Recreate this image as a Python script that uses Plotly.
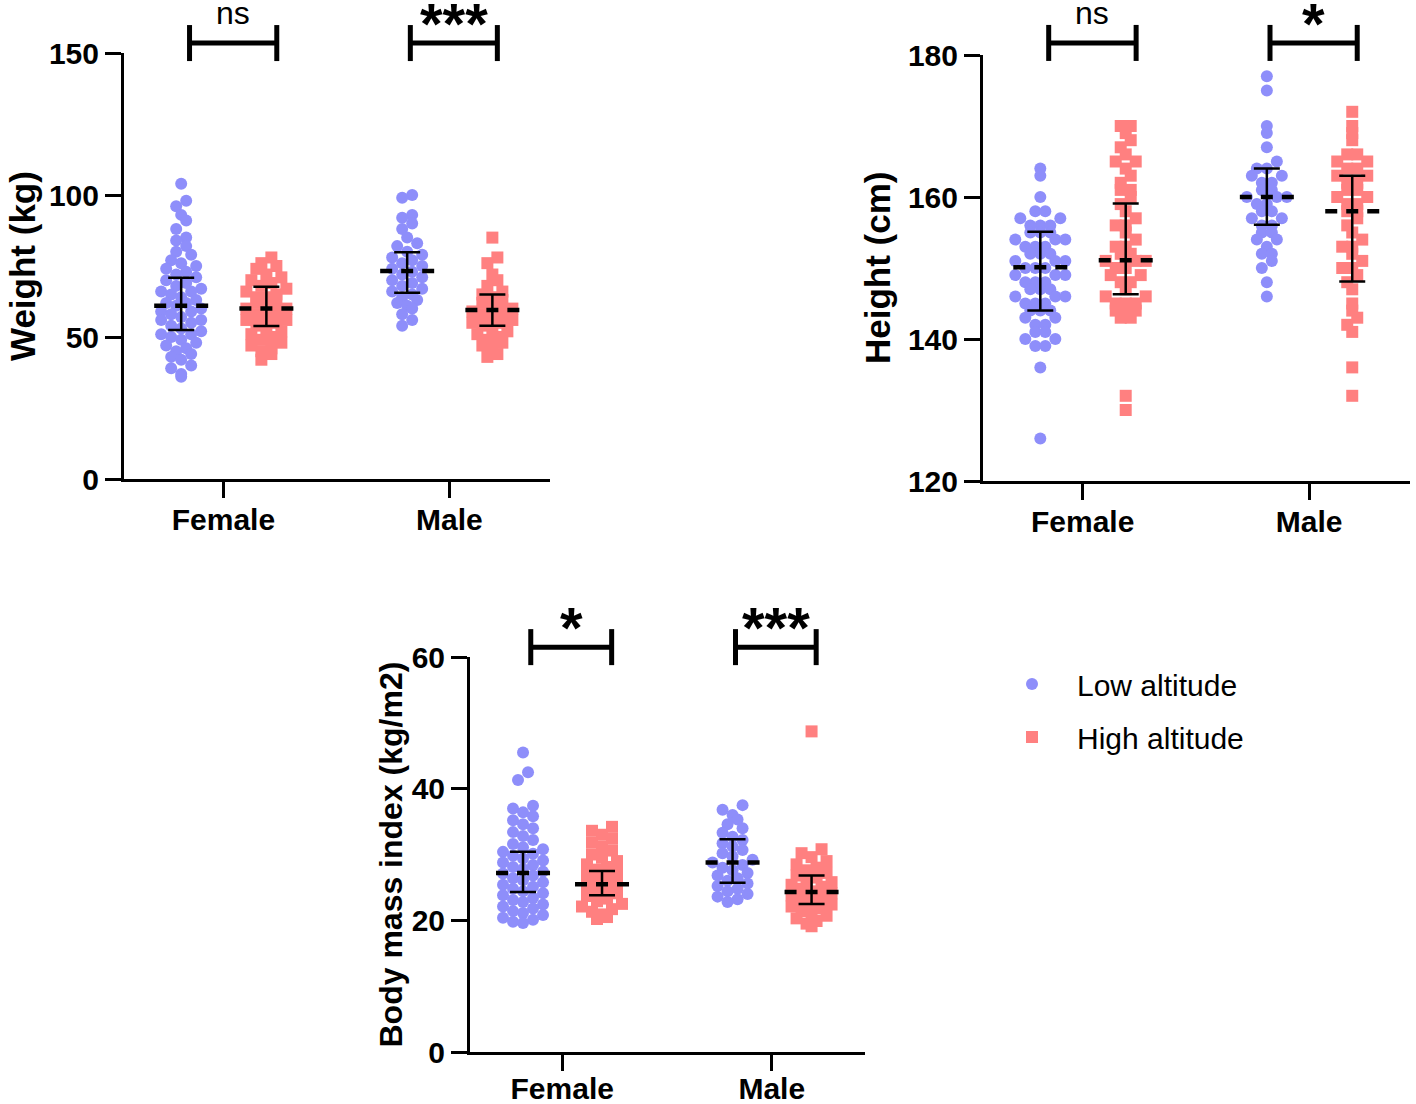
import plotly.graph_objects as go

W, H = 1416, 1104

categories = ["Female", "Male"]
series_names = ["Low altitude", "High altitude"]

# ---------------- data ----------------
weight_female_low = [104, 98, 96, 93, 91, 88, 85, 84, 82, 80, 79, 77, 76, 75, 74, 73, 72, 71, 70, 69,
                     68, 67, 66, 66, 65, 64, 63, 62, 62, 61, 60, 59, 59, 58, 57, 56, 56, 55, 54, 53,
                     52, 51, 51, 50, 49, 48, 47, 46, 45, 44, 43, 42, 40, 39, 37, 36]
weight_female_high = [78, 76, 75, 74, 72, 71, 70, 69, 68, 67, 66, 65, 64, 64, 63, 62, 61, 60, 60, 59,
                      58, 57, 56, 56, 55, 54, 53, 52, 51, 50, 49, 48, 47, 46, 45, 44, 42]
weight_male_low = [100, 99, 93, 92, 90, 88, 85, 83, 82, 80, 79, 78, 77, 76, 75, 74, 73, 72, 71, 70,
                   69, 68, 67, 66, 65, 64, 63, 62, 61, 60, 58, 56, 54]
weight_male_high = [85, 78, 76, 72, 70, 68, 66, 65, 64, 63, 62, 61, 60, 59, 59, 58, 57, 56, 55, 55,
                    54, 53, 52, 51, 50, 49, 48, 47, 46, 44, 43]

height_female_low = [164, 163, 160, 158, 158, 157, 157, 156, 156, 156, 155, 155, 155, 154, 154, 154,
                     153, 153, 153, 152, 152, 152, 151, 151, 151, 150, 150, 150, 149, 149, 149, 148,
                     148, 148, 147, 147, 147, 146, 146, 146, 145, 145, 145, 144, 144, 144, 143, 143,
                     142, 142, 141, 141, 140, 140, 139, 139, 136, 126]
height_female_high = [170, 170, 169, 168, 167, 166, 165, 165, 164, 163, 162, 161, 161, 160, 159, 158,
                      157, 156, 156, 155, 154, 153, 153, 152, 152, 151, 151, 151, 150, 150, 149, 149,
                      148, 148, 147, 146, 146, 145, 145, 145, 144, 144, 144, 143, 143, 132, 130]
height_male_low = [177, 175, 170, 169, 167, 165, 164, 164, 163, 163, 162, 162, 161, 161, 160, 160,
                   160, 159, 159, 158, 158, 157, 157, 156, 156, 155, 155, 154, 154, 153, 152, 152,
                   151, 150, 148, 146]
height_male_high = [172, 170, 169, 168, 166, 166, 165, 165, 164, 164, 163, 163, 162, 162, 161, 161,
                    160, 160, 159, 159, 158, 158, 157, 156, 155, 154, 153, 153, 152, 151, 150, 150,
                    149, 148, 147, 145, 144, 143, 142, 141, 136, 132]

bmi_female_low = [45.5, 42.5, 41.3, 37.4, 37.0, 36.4, 35.8, 35.2, 34.6, 34.0, 33.4, 32.8, 32.2, 31.6,
                  31.1, 30.8, 30.4, 30.1, 29.8, 29.4, 29.1, 28.8, 28.4, 28.1, 27.8, 27.4, 27.1, 26.8,
                  26.4, 26.1, 25.8, 25.4, 25.1, 24.8, 24.4, 24.1, 23.8, 23.4, 23.1, 22.8, 22.4, 22.1,
                  21.8, 21.4, 21.1, 20.8, 20.4, 20.1, 19.8, 19.6]
bmi_female_high = [34.2, 33.6, 33.0, 32.4, 31.8, 31.2, 30.6, 30.0, 29.5, 29.0, 28.5, 28.1, 27.7,
                   27.3, 26.9, 26.5, 26.1, 25.7, 25.3, 24.9, 24.5, 24.1, 23.7, 23.3, 22.9, 22.5,
                   22.1, 21.7, 21.3, 20.9, 20.5, 20.2]
bmi_male_low = [37.5, 36.8, 36.0, 35.3, 34.6, 34.0, 33.3, 32.7, 32.2, 31.7, 31.2, 30.7, 30.2, 29.7,
                29.2, 28.8, 28.4, 28.0, 27.6, 27.2, 26.8, 26.4, 26.0, 25.6, 25.2, 24.8, 24.4, 24.0,
                23.6, 23.2, 22.8]
bmi_male_high = [48.7, 30.8, 30.2, 29.6, 29.0, 28.5, 28.0, 27.6, 27.2, 26.8, 26.5, 26.1, 25.8, 25.4,
                 25.1, 24.8, 24.4, 24.1, 23.8, 23.4, 23.1, 22.8, 22.4, 22.1, 21.8, 21.4, 21.1, 20.7,
                 20.3, 19.9, 19.5, 19.1]

# summaries, order: Female-low, Female-high, Male-low, Male-high
weight_center = [61.0, 60.0, 73.2, 59.5]
weight_lower = [52.5, 53.9, 65.6, 54.0]
weight_upper = [70.9, 67.7, 79.8, 65.0]
height_center = [150.1, 151.1, 160.0, 158.0]
height_lower = [144.0, 146.3, 156.1, 148.1]
height_upper = [155.1, 159.1, 164.0, 163.0]
bmi_center = [27.2, 25.5, 28.8, 24.3]
bmi_lower = [24.3, 23.8, 25.7, 22.5]
bmi_upper = [30.4, 27.5, 32.3, 26.8]

weight_sig = ["ns", "***"]
height_sig = ["ns", "*"]
bmi_sig = ["*", "***"]

# ---------------- styling / layout ----------------
BLUE = "rgb(142,142,250)"
RED = "rgb(255,128,128)"
FONT = "Liberation Sans"
GROUP_OFFSET = [-0.187, 0.19]
BRACKET_LEFT = [-0.15, -0.173]
BRACKET_RIGHT = [0.236, 0.212]
XRANGE = [-0.44, 1.445]
BIN_PX, SPACING_PX = 11.0, 10.0

# pixel boxes in the reference: (left, right, top, bottom), title centre x, title size
panels = [
    dict(title="Weight (kg)", yr=[0, 150], dtick=50, px=(124, 550, 53, 479), tx=22, ts=35,
         xstand=-4,
         data=[[weight_female_low, weight_female_high], [weight_male_low, weight_male_high]],
         c=weight_center, lo=weight_lower, hi=weight_upper, sig=weight_sig, blevel=153.5),
    dict(title="Height (cm)", yr=[120, 180], dtick=20, px=(983, 1410, 55, 481), tx=878, ts=35,
         xstand=-4,
         data=[[height_female_low, height_female_high], [height_male_low, height_male_high]],
         c=height_center, lo=height_lower, hi=height_upper, sig=height_sig, blevel=181.7),
    dict(title="Body mass index (kg/m2)", yr=[0, 60], dtick=20, px=(470, 865, 657, 1052), tx=390,
         ts=32, xstand=-8,
         data=[[bmi_female_low, bmi_female_high], [bmi_male_low, bmi_male_high]],
         c=bmi_center, lo=bmi_lower, hi=bmi_upper, sig=bmi_sig, blevel=61.5),
]


def scatter_offsets(values, ppu):
    """GraphPad-like scatter: points in the same row band are spread side by side."""
    bins = {}
    for i, v in enumerate(values):
        bins.setdefault(int(round(v * ppu / BIN_PX)), []).append(i)
    offs = [0.0] * len(values)
    for idx in bins.values():
        idx.sort(key=lambda i: values[i])
        n = len(idx)
        slots = sorted([j - (n - 1) / 2 for j in range(n)], key=lambda s: (abs(s), s))
        for i, s in zip(idx, slots):
            offs[i] = s * SPACING_PX
    return offs


fig = go.Figure()
layout = dict(width=W, height=H, margin=dict(l=0, r=0, t=0, b=0),
              paper_bgcolor="white", plot_bgcolor="white",
              font=dict(family=FONT, color="black"), showlegend=True)
annotations = []
shapes = []

for k, p in enumerate(panels):
    sfx = "" if k == 0 else str(k + 1)
    xa, ya = "x" + sfx, "y" + sfx
    x0, x1, y0, y1 = p["px"]
    dom_x = [x0 / W, x1 / W]
    dom_y = [1 - y1 / H, 1 - y0 / H]
    ppu_x = (x1 - x0) / (XRANGE[1] - XRANGE[0])
    ppu_y = (y1 - y0) / (p["yr"][1] - p["yr"][0])

    def fx(v):
        return (v - XRANGE[0]) / (XRANGE[1] - XRANGE[0])

    def fy(v):
        return (v - p["yr"][0]) / (p["yr"][1] - p["yr"][0])

    for ci in range(2):
        for si in range(2):
            vals = p["data"][ci][si]
            offs = scatter_offsets(vals, ppu_y)
            xs = [ci + GROUP_OFFSET[si] + o / ppu_x for o in offs]
            show = (k == 0 and ci == 0)
            fig.add_trace(go.Scatter(
                x=xs, y=vals, mode="markers", xaxis=xa, yaxis=ya,
                name=series_names[si], legendgroup=series_names[si],
                showlegend=show,
                marker=dict(color=BLUE if si == 0 else RED,
                            symbol="circle" if si == 0 else "square",
                            size=12, line=dict(width=0)),
                cliponaxis=False, hoverinfo="y"))
    # error bars and dashed centre lines
    for ci in range(2):
        for si in range(2):
            g = ci * 2 + si
            xc = ci + GROUP_OFFSET[si]
            fig.add_trace(go.Scatter(
                x=[xc], y=[p["c"][g]], mode="markers", xaxis=xa, yaxis=ya, showlegend=False,
                marker=dict(size=1, color="rgba(0,0,0,0)"),
                error_y=dict(type="data", symmetric=False,
                             array=[p["hi"][g] - p["c"][g]],
                             arrayminus=[p["c"][g] - p["lo"][g]],
                             width=13, thickness=2.5, color="black"),
                hoverinfo="skip"))
            fig.add_trace(go.Scatter(
                x=[xc - 27 / ppu_x, xc + 27 / ppu_x], y=[p["c"][g], p["c"][g]],
                mode="lines", xaxis=xa, yaxis=ya, showlegend=False,
                line=dict(color="black", width=4.5, dash="12px,9px"),
                hoverinfo="skip"))
    # significance brackets (domain-referenced so they can sit above the axis)
    leg = 18 / ppu_y
    xd, yd = xa + " domain", ya + " domain"
    for ci in range(2):
        xl, xr = ci + BRACKET_LEFT[ci], ci + BRACKET_RIGHT[ci]
        b = p["blevel"]
        line = dict(color="black", width=5)
        shapes.append(dict(type="line", xref=xd, yref=yd, x0=fx(xl), x1=fx(xl),
                           y0=fy(b - leg), y1=fy(b + leg), line=line))
        shapes.append(dict(type="line", xref=xd, yref=yd, x0=fx(xr), x1=fx(xr),
                           y0=fy(b - leg), y1=fy(b + leg), line=line))
        shapes.append(dict(type="line", xref=xd, yref=yd, x0=fx(xl), x1=fx(xr),
                           y0=fy(b), y1=fy(b), line=line))
        s = p["sig"][ci]
        if s == "ns":
            annotations.append(dict(x=fx((xl + xr) / 2), y=fy(b), xref=xd, yref=yd, text="ns",
                                    showarrow=False, xanchor="center", yanchor="bottom", yshift=10,
                                    font=dict(size=32, family=FONT, color="black")))
        else:
            annotations.append(dict(x=fx((xl + xr) / 2), y=fy(b), xref=xd, yref=yd, text=s,
                                    showarrow=False, xanchor="center", yanchor="bottom",
                                    yshift=-15,
                                    font=dict(size=58, family=FONT, color="black", weight="bold")))
    # y-axis title
    annotations.append(dict(x=p["tx"] / W, y=(dom_y[0] + dom_y[1]) / 2,
                            xref="paper", yref="paper", text=p["title"], textangle=-90,
                            showarrow=False, xanchor="center", yanchor="middle",
                            font=dict(size=p["ts"], family=FONT, color="black", weight="bold")))

    axis_common = dict(showline=True, linewidth=3, linecolor="black", ticks="outside",
                       ticklen=16, tickwidth=3, tickcolor="black", showgrid=False, zeroline=False,
                       automargin=False,
                       tickfont=dict(size=30, family=FONT, color="black", weight="bold"))
    layout["xaxis" + sfx] = dict(axis_common, domain=dom_x, range=XRANGE, anchor=ya,
                                 tickvals=[0, 1], ticktext=categories,
                                 ticklabelstandoff=p["xstand"])
    layout["yaxis" + sfx] = dict(axis_common, domain=dom_y, range=p["yr"], anchor=xa,
                                 tick0=p["yr"][0], dtick=p["dtick"], ticklabelstandoff=0)

layout["annotations"] = annotations
layout["shapes"] = shapes
layout["legend"] = dict(x=987 / W, y=1 - 658 / H, xanchor="left", yanchor="top",
                        font=dict(size=30, family=FONT, color="black"),
                        itemwidth=80, tracegroupgap=11, bgcolor="rgba(0,0,0,0)")
fig.update_layout(**layout)
fig.write_html("out.html", config={"displayModeBar": False},
               post_script="document.body.style.margin='0px';")
